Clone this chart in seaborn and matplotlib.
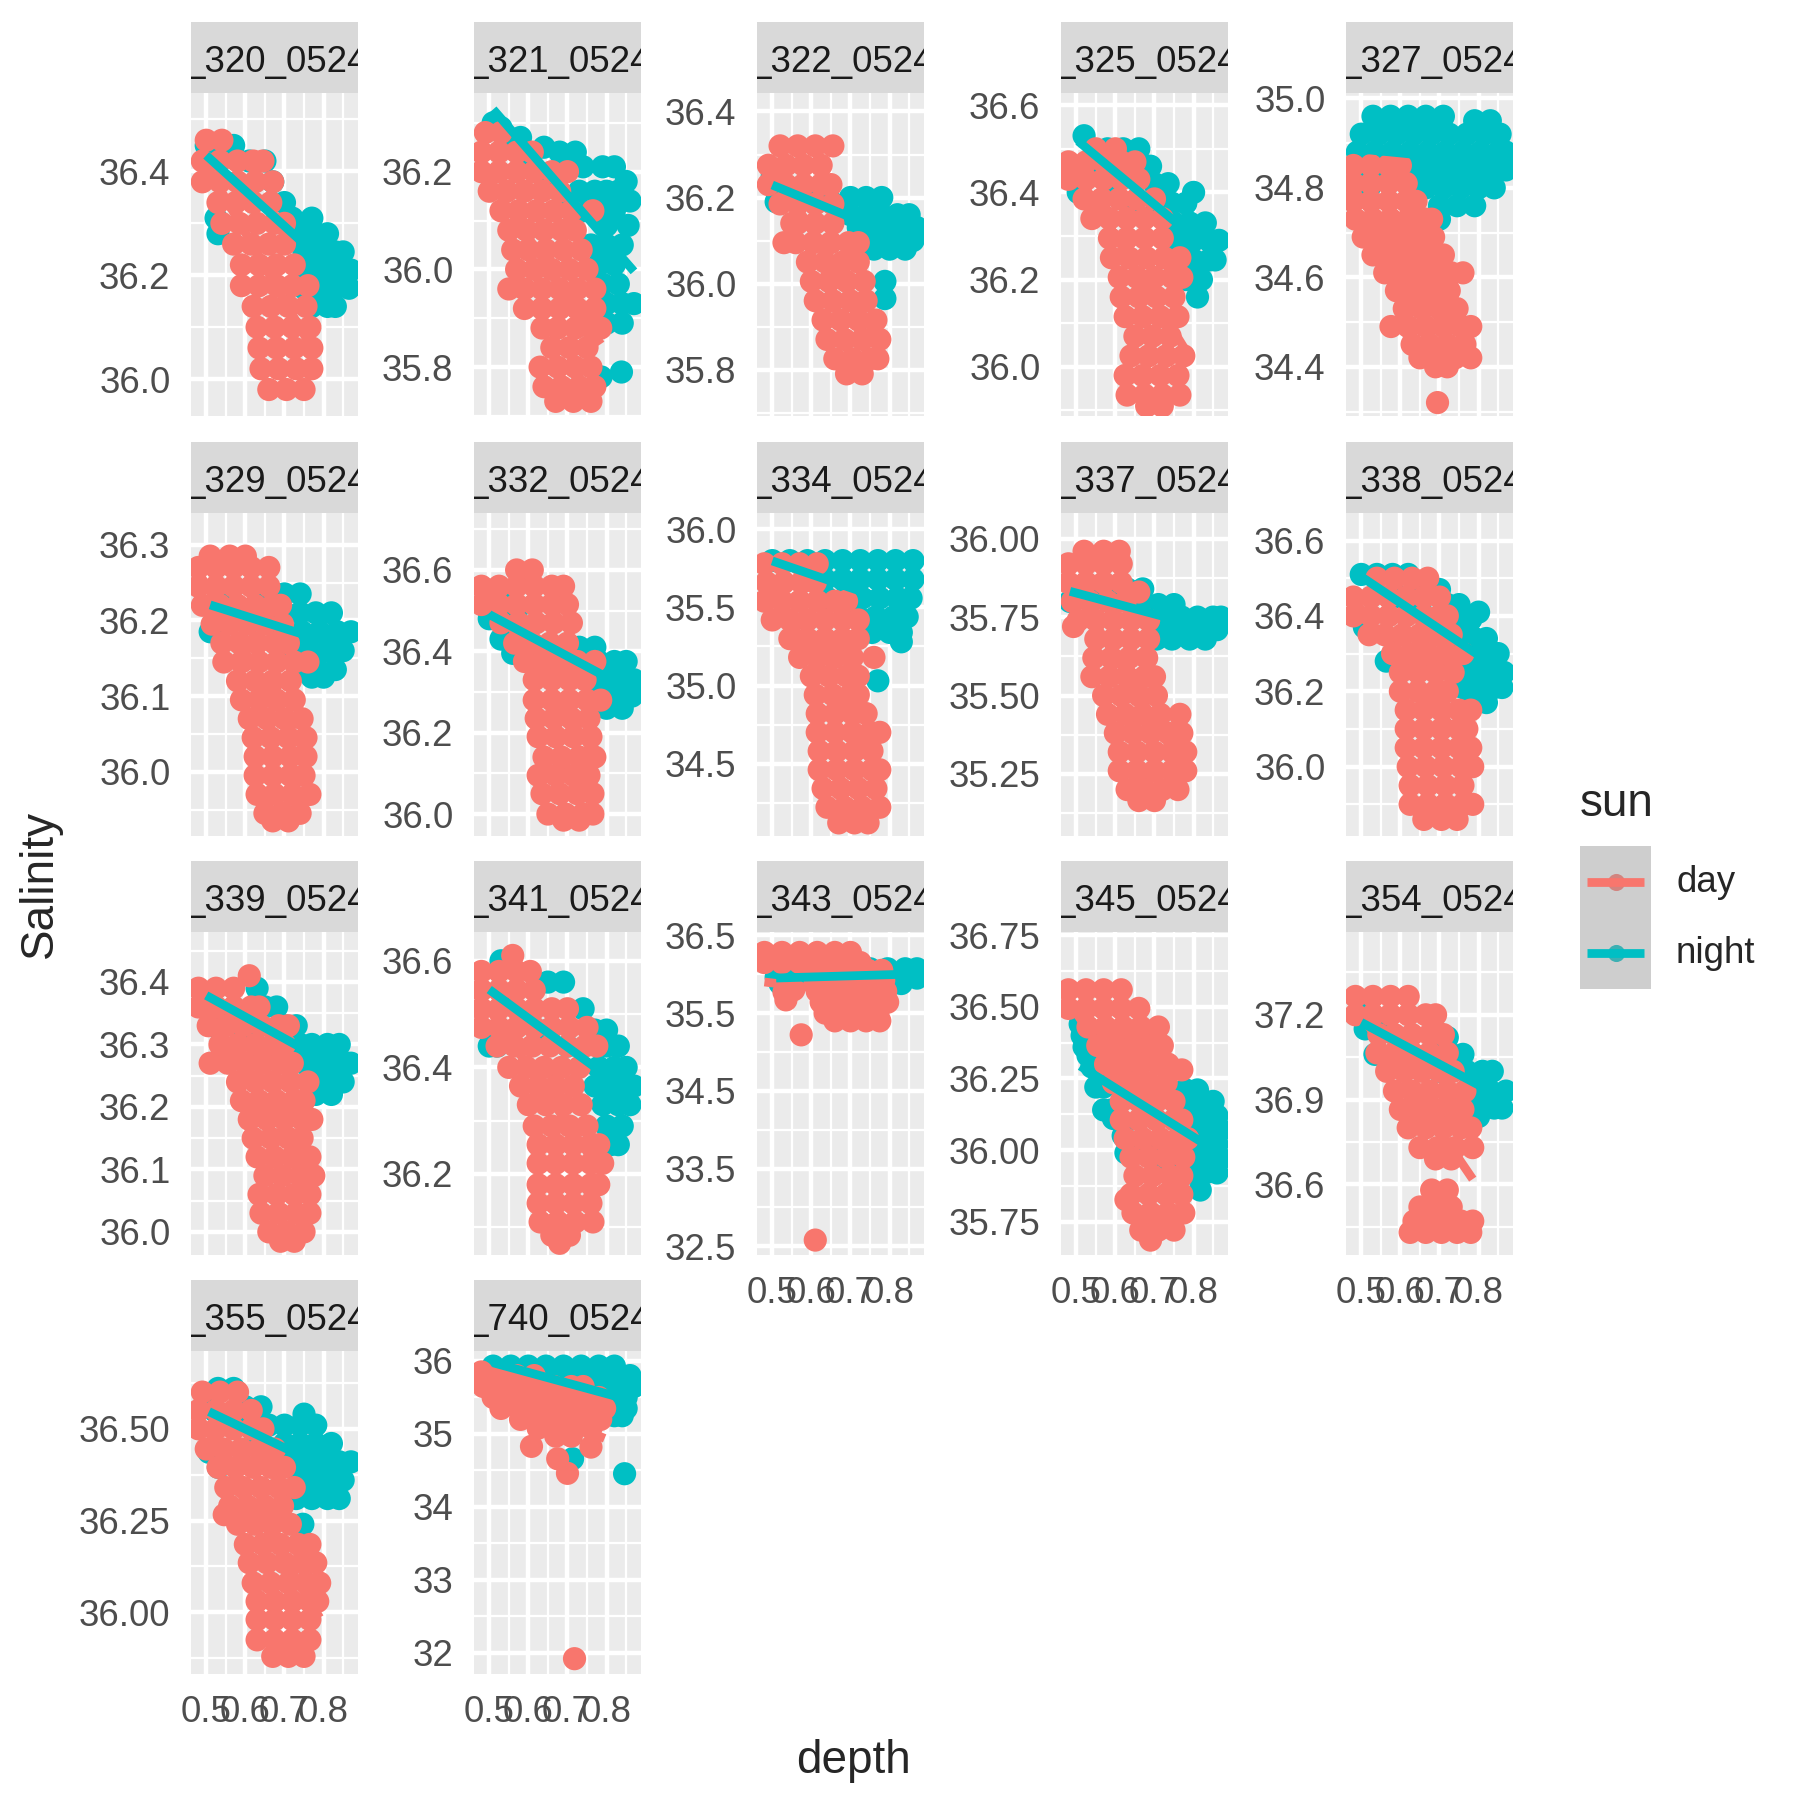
import pandas as pd
import matplotlib
matplotlib.use('Agg')
import matplotlib.pyplot as plt
import seaborn as sns
from matplotlib.ticker import FixedLocator, AutoMinorLocator, FormatStrFormatter
from matplotlib.patches import Rectangle
from matplotlib.lines import Line2D

# Salinity vs depth, one panel per station; each row is (salinity, [depths])
st320_day = [(36.46, [0.50, 0.54]), (36.42, [0.49, 0.535, 0.58, 0.62, 0.645]),
             (36.38, [0.49, 0.535, 0.58, 0.625, 0.67]), (36.34, [0.53, 0.575, 0.62, 0.665]),
             (36.30, [0.54, 0.585, 0.63, 0.675, 0.70]), (36.26, [0.57, 0.615, 0.66, 0.70]),
             (36.22, [0.59, 0.635, 0.68, 0.725]), (36.18, [0.59, 0.635, 0.68, 0.72, 0.76]),
             (36.14, [0.62, 0.665, 0.71, 0.755]), (36.10, [0.63, 0.675, 0.72, 0.765]),
             (36.06, [0.635, 0.68, 0.725, 0.77]), (36.02, [0.64, 0.685, 0.73, 0.77]),
             (35.98, [0.66, 0.705, 0.75])]
st320_night = [(36.45, [0.50, 0.535, 0.57]), (36.42, [0.61, 0.65]), (36.38, [0.67]), (36.34, [0.70]),
               (36.31, [0.525, 0.72, 0.77]), (36.28, [0.53, 0.74, 0.78, 0.81]),
               (36.245, [0.75, 0.79, 0.83, 0.85]), (36.21, [0.76, 0.80, 0.84, 0.87]),
               (36.175, [0.75, 0.79, 0.83, 0.865]), (36.14, [0.77, 0.81, 0.83])]

st321_day = [(36.28, [0.49, 0.53]), (36.24, [0.48, 0.525, 0.57, 0.61]),
             (36.20, [0.48, 0.525, 0.57, 0.615, 0.66, 0.70]), (36.16, [0.50, 0.545, 0.59, 0.635, 0.68]),
             (36.12, [0.53, 0.575, 0.62, 0.665, 0.71, 0.765]), (36.08, [0.55, 0.595, 0.64, 0.685, 0.72]),
             (36.04, [0.56, 0.60, 0.645, 0.69, 0.735]), (36.00, [0.57, 0.615, 0.66, 0.705, 0.75]),
             (35.96, [0.55, 0.59, 0.635, 0.68, 0.725, 0.77]), (35.92, [0.59, 0.635, 0.68, 0.725, 0.77]),
             (35.88, [0.635, 0.675, 0.72, 0.76, 0.785]), (35.84, [0.66, 0.705, 0.75]),
             (35.80, [0.63, 0.675, 0.72, 0.76]), (35.76, [0.64, 0.685, 0.73, 0.77]),
             (35.73, [0.67, 0.715, 0.76])]
st321_night = [(36.30, [0.51]), (36.29, [0.53]), (36.27, [0.58]), (36.26, [0.55]), (36.25, [0.64]),
               (36.24, [0.68, 0.72]), (36.22, [0.60]), (36.21, [0.70, 0.74, 0.79, 0.82]),
               (36.18, [0.65, 0.85]), (36.16, [0.73, 0.77, 0.80, 0.83]), (36.14, [0.70, 0.86]),
               (36.12, [0.74, 0.78, 0.82]), (36.09, [0.80, 0.855]), (36.05, [0.76, 0.80, 0.84]),
               (36.01, [0.78, 0.82]), (35.97, [0.79, 0.83]), (35.93, [0.80, 0.84, 0.87]),
               (35.89, [0.80, 0.84]), (35.79, [0.838]), (35.78, [0.786])]

st322_day = [(36.32, [0.52, 0.565, 0.61, 0.655]), (36.275, [0.49, 0.535, 0.58, 0.625]),
             (36.23, [0.49, 0.535, 0.58, 0.625, 0.65]), (36.185, [0.52, 0.565, 0.61, 0.655]),
             (36.14, [0.55, 0.565, 0.61, 0.655]), (36.095, [0.53, 0.56, 0.605, 0.65, 0.695, 0.72]),
             (36.05, [0.59, 0.635, 0.68, 0.72]), (36.005, [0.60, 0.645, 0.69, 0.735]),
             (35.96, [0.61, 0.655, 0.70, 0.74]), (35.915, [0.63, 0.675, 0.72, 0.765]),
             (35.87, [0.64, 0.685, 0.73, 0.775]), (35.825, [0.66, 0.705, 0.75, 0.77]),
             (35.79, [0.69, 0.73])]
st322_night = [(36.25, [0.50]), (36.22, [0.55]), (36.21, [0.60]), (36.19, [0.51, 0.65]),
               (36.20, [0.70, 0.74, 0.78]), (36.16, [0.70, 0.74, 0.78, 0.82, 0.85]),
               (36.13, [0.72, 0.76, 0.80, 0.84, 0.87]), (36.10, [0.74, 0.78, 0.82, 0.86]),
               (36.08, [0.76, 0.80, 0.84]), (36.005, [0.788]), (35.965, [0.788])]

st325_day = [(36.50, [0.55, 0.60]), (36.47, [0.48, 0.525, 0.57, 0.615, 0.65]),
             (36.43, [0.48, 0.525, 0.57, 0.615, 0.66]), (36.385, [0.52, 0.565, 0.61, 0.655, 0.70]),
             (36.34, [0.54, 0.585, 0.63, 0.675, 0.72]), (36.295, [0.585, 0.63, 0.675, 0.72]),
             (36.25, [0.59, 0.635, 0.68, 0.725, 0.765]), (36.205, [0.61, 0.655, 0.70, 0.745, 0.77]),
             (36.16, [0.615, 0.66, 0.705, 0.75]), (36.115, [0.625, 0.67, 0.715, 0.76]),
             (36.07, [0.65, 0.695, 0.74]), (36.025, [0.64, 0.685, 0.73, 0.775]),
             (35.98, [0.625, 0.67, 0.715, 0.76]), (35.935, [0.63, 0.675, 0.72, 0.765]),
             (35.91, [0.68, 0.72])]
st325_night = [(36.53, [0.52]), (36.50, [0.58, 0.62, 0.66]), (36.46, [0.69]), (36.45, [0.55]),
               (36.42, [0.60, 0.70, 0.735]), (36.40, [0.505, 0.80]), (36.38, [0.65]),
               (36.375, [0.745, 0.78]), (36.35, [0.70]), (36.33, [0.75, 0.79, 0.83]),
               (36.29, [0.76, 0.80, 0.84, 0.865]), (36.245, [0.76, 0.80, 0.84, 0.855]),
               (36.20, [0.78, 0.82]), (36.16, [0.81])]

st327_day = [(34.85, [0.48, 0.525, 0.57, 0.60]), (34.81, [0.48, 0.525, 0.57, 0.615]),
             (34.77, [0.48, 0.525, 0.57, 0.615, 0.64]), (34.73, [0.485, 0.53, 0.575, 0.62, 0.665, 0.68]),
             (34.69, [0.505, 0.55, 0.595, 0.64, 0.685]), (34.65, [0.53, 0.575, 0.62, 0.665, 0.71]),
             (34.61, [0.56, 0.605, 0.65, 0.695, 0.73, 0.76]), (34.57, [0.59, 0.635, 0.68, 0.725]),
             (34.53, [0.61, 0.655, 0.70, 0.745]), (34.49, [0.576, 0.62, 0.665, 0.71, 0.755, 0.78]),
             (34.45, [0.63, 0.675, 0.72, 0.765]), (34.42, [0.65, 0.695, 0.74, 0.78]),
             (34.40, [0.69, 0.72]), (34.32, [0.695])]
st327_night = [(34.96, [0.53, 0.575, 0.62, 0.665, 0.71]), (34.95, [0.79, 0.83]),
               (34.92, [0.50, 0.545, 0.59, 0.635, 0.68, 0.725, 0.77, 0.815, 0.855]),
               (34.88, [0.49, 0.535, 0.58, 0.625, 0.67, 0.715, 0.76, 0.805, 0.85, 0.87]),
               (34.84, [0.50, 0.56, 0.605, 0.65, 0.695, 0.74, 0.785, 0.83, 0.87]),
               (34.80, [0.52, 0.665, 0.71, 0.755, 0.80, 0.84]), (34.76, [0.70, 0.745, 0.79]),
               (34.73, [0.70])]

st329_day = [(36.285, [0.51, 0.56, 0.60]), (36.27, [0.48, 0.525, 0.57, 0.615, 0.66]),
             (36.245, [0.48, 0.525, 0.57, 0.615, 0.66]), (36.22, [0.49, 0.535, 0.58, 0.625, 0.67, 0.69]),
             (36.195, [0.515, 0.56, 0.605, 0.65, 0.695]), (36.17, [0.54, 0.585, 0.63, 0.675, 0.71]),
             (36.145, [0.545, 0.59, 0.635, 0.68, 0.725, 0.76]), (36.12, [0.58, 0.625, 0.67, 0.715]),
             (36.095, [0.59, 0.635, 0.68, 0.725]), (36.07, [0.61, 0.655, 0.70, 0.745]),
             (36.045, [0.62, 0.665, 0.71, 0.755]), (36.02, [0.625, 0.67, 0.715, 0.755]),
             (35.995, [0.625, 0.67, 0.715, 0.75]), (35.97, [0.63, 0.675, 0.72, 0.765]),
             (35.945, [0.65, 0.695, 0.74]), (35.935, [0.67, 0.71])]
st329_night = [(36.235, [0.66, 0.70, 0.74]), (36.22, [0.55]), (36.21, [0.60, 0.70, 0.74, 0.78, 0.82]),
               (36.20, [0.64]), (36.185, [0.51, 0.70, 0.745, 0.79, 0.835, 0.87]),
               (36.16, [0.72, 0.765, 0.81, 0.85]), (36.135, [0.74, 0.785, 0.83]), (36.125, [0.77, 0.80])]

st332_day = [(36.60, [0.57, 0.61]), (36.56, [0.48, 0.525, 0.57, 0.615, 0.66, 0.69]),
             (36.515, [0.48, 0.525, 0.57, 0.615, 0.66, 0.70]), (36.47, [0.53, 0.575, 0.62, 0.665, 0.71]),
             (36.42, [0.565, 0.61, 0.655, 0.70]), (36.375, [0.59, 0.635, 0.68, 0.725, 0.77]),
             (36.33, [0.615, 0.66, 0.705, 0.745]), (36.28, [0.615, 0.66, 0.705, 0.75, 0.785]),
             (36.235, [0.62, 0.665, 0.71, 0.755]), (36.19, [0.625, 0.67, 0.715, 0.76]),
             (36.14, [0.64, 0.685, 0.73, 0.77]), (36.095, [0.625, 0.67, 0.715, 0.755]),
             (36.05, [0.635, 0.68, 0.725, 0.765]), (36.00, [0.65, 0.695, 0.74, 0.765]),
             (35.985, [0.69, 0.73])]
st332_night = [(36.55, [0.50]), (36.53, [0.53]), (36.50, [0.52, 0.57]), (36.48, [0.50]), (36.46, [0.55]),
               (36.43, [0.53]), (36.395, [0.56, 0.59]), (36.40, [0.62, 0.66]), (36.38, [0.70]),
               (36.41, [0.73, 0.77]), (36.375, [0.74, 0.78, 0.82, 0.85]), (36.33, [0.77, 0.81, 0.85, 0.87]),
               (36.29, [0.79, 0.83, 0.865]), (36.26, [0.80, 0.84])]

st334_day = [(35.78, [0.48, 0.525, 0.57, 0.615]), (35.66, [0.485, 0.53, 0.575, 0.61]),
             (35.54, [0.48, 0.525, 0.57, 0.615, 0.66, 0.69]), (35.42, [0.50, 0.545, 0.59, 0.635, 0.68, 0.72]),
             (35.30, [0.545, 0.59, 0.635, 0.68, 0.72]), (35.18, [0.57, 0.615, 0.66, 0.705, 0.76]),
             (35.06, [0.60, 0.645, 0.69, 0.72]), (34.94, [0.61, 0.655, 0.70, 0.72]),
             (34.82, [0.615, 0.66, 0.705, 0.74]), (34.70, [0.615, 0.66, 0.705, 0.75, 0.775]),
             (34.58, [0.62, 0.665, 0.71, 0.755]), (34.46, [0.62, 0.665, 0.71, 0.755, 0.775]),
             (34.34, [0.63, 0.675, 0.72, 0.765]), (34.22, [0.64, 0.685, 0.73, 0.775]),
             (34.12, [0.67, 0.71, 0.745])]
st334_night = [(35.80, [0.50, 0.545, 0.59, 0.635, 0.68, 0.725, 0.77, 0.815, 0.86]),
               (35.68, [0.635, 0.68, 0.725, 0.77, 0.815, 0.86]),
               (35.56, [0.64, 0.685, 0.73, 0.775, 0.82, 0.855]), (35.44, [0.72, 0.765, 0.81, 0.845]),
               (35.34, [0.755, 0.80, 0.83]), (35.28, [0.83]), (35.03, [0.77])]

st337_day = [(35.96, [0.52, 0.57, 0.61]), (35.92, [0.48, 0.525, 0.57, 0.615]),
             (35.86, [0.48, 0.525, 0.57, 0.615]), (35.83, [0.66]), (35.80, [0.49, 0.535, 0.58, 0.625]),
             (35.74, [0.505, 0.55, 0.595, 0.64, 0.685]), (35.72, [0.493]),
             (35.68, [0.55, 0.595, 0.64, 0.685]), (35.62, [0.545, 0.59, 0.635, 0.68]),
             (35.56, [0.54, 0.585, 0.63, 0.675, 0.70]), (35.50, [0.57, 0.615, 0.66, 0.705]),
             (35.44, [0.58, 0.625, 0.67, 0.715, 0.765]), (35.38, [0.60, 0.645, 0.69, 0.735, 0.77]),
             (35.32, [0.61, 0.655, 0.70, 0.745, 0.78]), (35.26, [0.61, 0.655, 0.70, 0.745, 0.78]),
             (35.20, [0.63, 0.675, 0.72, 0.76]), (35.165, [0.66, 0.70])]
st337_night = [(35.84, [0.63, 0.67]), (35.83, [0.55]), (35.81, [0.60]), (35.80, [0.484]),
               (35.79, [0.665, 0.71, 0.75]), (35.75, [0.69, 0.73, 0.77, 0.81, 0.85, 0.87]),
               (35.71, [0.70, 0.74, 0.78, 0.82, 0.86]), (35.68, [0.705, 0.745, 0.79, 0.83])]

st338_day = [(36.50, [0.54, 0.585, 0.63, 0.67]), (36.45, [0.48, 0.525, 0.57, 0.615, 0.66, 0.70]),
             (36.40, [0.48, 0.525, 0.57, 0.615, 0.66, 0.70, 0.72]),
             (36.35, [0.52, 0.56, 0.605, 0.65, 0.695, 0.73]), (36.30, [0.58, 0.625, 0.67, 0.715, 0.76]),
             (36.25, [0.60, 0.645, 0.69, 0.735]), (36.20, [0.60, 0.645, 0.69, 0.72]),
             (36.15, [0.615, 0.66, 0.705, 0.75, 0.78]), (36.10, [0.615, 0.66, 0.705, 0.75, 0.77]),
             (36.05, [0.615, 0.66, 0.705, 0.75, 0.78]), (36.00, [0.62, 0.665, 0.71, 0.755, 0.785]),
             (35.95, [0.625, 0.67, 0.715, 0.76]), (35.90, [0.625, 0.67, 0.715, 0.76, 0.785]),
             (35.86, [0.66, 0.705, 0.745])]
st338_night = [(36.51, [0.50, 0.54, 0.58, 0.62]), (36.47, [0.66, 0.70]), (36.45, [0.60]),
               (36.43, [0.72, 0.75]), (36.42, [0.65]), (36.41, [0.80]), (36.39, [0.75, 0.78]),
               (36.38, [0.70]), (36.37, [0.508]), (36.34, [0.75, 0.79, 0.82]), (36.30, [0.78, 0.81, 0.85]),
               (36.28, [0.564]), (36.25, [0.76, 0.80, 0.84, 0.865]), (36.21, [0.76, 0.80, 0.84, 0.86]),
               (36.17, [0.78, 0.82])]

st339_day = [(36.41, [0.61]), (36.39, [0.48, 0.525, 0.57]), (36.36, [0.48, 0.525, 0.57, 0.615, 0.635]),
             (36.33, [0.505, 0.55, 0.595, 0.64, 0.685, 0.71]), (36.30, [0.535, 0.58, 0.625, 0.67, 0.70]),
             (36.27, [0.51, 0.555, 0.60, 0.645, 0.69, 0.72]), (36.24, [0.58, 0.625, 0.67, 0.715, 0.76]),
             (36.21, [0.59, 0.635, 0.68, 0.725, 0.75]), (36.18, [0.61, 0.655, 0.70, 0.745, 0.77]),
             (36.15, [0.62, 0.665, 0.71, 0.745]), (36.12, [0.63, 0.675, 0.72, 0.765]),
             (36.09, [0.65, 0.695, 0.74, 0.775]), (36.06, [0.635, 0.68, 0.725, 0.765]),
             (36.03, [0.64, 0.685, 0.73, 0.765]), (36.00, [0.66, 0.705, 0.75]), (35.985, [0.69, 0.725])]
st339_night = [(36.39, [0.63]), (36.38, [0.50]), (36.36, [0.65, 0.68]), (36.35, [0.55]),
               (36.33, [0.52, 0.70, 0.73]), (36.32, [0.60]), (36.30, [0.74, 0.77, 0.81, 0.84]),
               (36.27, [0.75, 0.79, 0.83, 0.86, 0.87]), (36.24, [0.77, 0.81, 0.85]), (36.22, [0.78, 0.82])]

st341_day = [(36.61, [0.56]), (36.58, [0.48, 0.525, 0.57, 0.605]), (36.545, [0.48, 0.525, 0.57, 0.615]),
             (36.51, [0.48, 0.525, 0.57, 0.615, 0.66, 0.70]),
             (36.475, [0.48, 0.525, 0.57, 0.615, 0.66, 0.705, 0.75]),
             (36.44, [0.52, 0.565, 0.61, 0.655, 0.70, 0.745, 0.775]),
             (36.40, [0.55, 0.595, 0.64, 0.685, 0.73]), (36.365, [0.58, 0.625, 0.67, 0.715]),
             (36.33, [0.60, 0.645, 0.69, 0.735]), (36.29, [0.615, 0.66, 0.705, 0.75]),
             (36.255, [0.625, 0.67, 0.715, 0.76, 0.78]), (36.22, [0.625, 0.67, 0.715, 0.76, 0.79]),
             (36.18, [0.625, 0.67, 0.715, 0.76, 0.78]), (36.145, [0.625, 0.67, 0.715, 0.76]),
             (36.11, [0.63, 0.675, 0.72, 0.765]), (36.085, [0.66, 0.705]), (36.07, [0.68])]
st341_night = [(36.60, [0.53]), (36.56, [0.65, 0.69]), (36.52, [0.55]), (36.51, [0.74]), (36.50, [0.60]),
               (36.47, [0.65, 0.77, 0.80]), (36.44, [0.50, 0.52, 0.70, 0.80, 0.83]),
               (36.40, [0.78, 0.82, 0.85]), (36.365, [0.77, 0.81, 0.85, 0.87]),
               (36.33, [0.79, 0.83, 0.86]), (36.29, [0.80, 0.84]), (36.255, [0.81, 0.83])]

st343_day = [(36.28, [0.48, 0.525, 0.57, 0.615, 0.66, 0.70]),
             (36.15, [0.48, 0.525, 0.57, 0.615, 0.66, 0.705, 0.725]),
             (36.05, [0.61, 0.655, 0.70, 0.745, 0.78]), (35.92, [0.61, 0.655, 0.70, 0.745, 0.785]),
             (35.80, [0.555]), (35.77, [0.53]), (35.78, [0.615, 0.66, 0.705, 0.75, 0.79]),
             (35.67, [0.535]), (35.64, [0.625, 0.67, 0.715, 0.76, 0.795]),
             (35.50, [0.635, 0.68, 0.725, 0.77]), (35.40, [0.66, 0.70, 0.74, 0.775]),
             (35.22, [0.574]), (32.58, [0.61])]
st343_night = [(36.07, [0.75, 0.795, 0.84, 0.87]), (36.05, [0.63, 0.67, 0.71]),
               (35.96, [0.51, 0.55, 0.59]), (35.95, [0.80, 0.84, 0.87]),
               (35.88, [0.52, 0.56, 0.80, 0.83])]

st345_day = [(36.56, [0.48, 0.525, 0.57, 0.615]), (36.495, [0.48, 0.525, 0.57, 0.615, 0.66]),
             (36.43, [0.53, 0.575, 0.62, 0.665, 0.71]), (36.365, [0.555, 0.60, 0.645, 0.69, 0.72]),
             (36.30, [0.575, 0.62, 0.665, 0.71, 0.735]), (36.28, [0.77]),
             (36.235, [0.595, 0.64, 0.685, 0.73]), (36.17, [0.615, 0.66, 0.705, 0.75]),
             (36.105, [0.615, 0.66, 0.705, 0.75, 0.77]), (36.04, [0.625, 0.67, 0.715, 0.76, 0.785]),
             (35.975, [0.64, 0.685, 0.73, 0.775]), (35.91, [0.65, 0.695, 0.74, 0.77]),
             (35.845, [0.64, 0.685, 0.73, 0.77]), (35.826, [0.627]),
             (35.78, [0.645, 0.69, 0.735, 0.775]), (35.72, [0.665, 0.71, 0.75]), (35.685, [0.69])]
st345_night = [(36.44, [0.51]), (36.40, [0.515, 0.53]), (36.36, [0.52, 0.54]), (36.33, [0.53, 0.55]),
               (36.29, [0.54, 0.56]), (36.22, [0.55, 0.57]), (36.14, [0.57, 0.59]), (36.11, [0.595]),
               (36.05, [0.62]), (36.00, [0.66]), (35.99, [0.627]), (35.98, [0.70]), (35.95, [0.74, 0.78]),
               (36.21, [0.74, 0.78, 0.81]), (36.17, [0.80, 0.85]), (36.12, [0.79, 0.83, 0.86]),
               (36.07, [0.80, 0.84, 0.87]), (36.02, [0.79, 0.83, 0.86]), (35.97, [0.79, 0.83, 0.87]),
               (35.92, [0.79, 0.83, 0.86]), (35.86, [0.817])]

st354_day = [(37.265, [0.485, 0.53, 0.575, 0.62]), (37.20, [0.485, 0.53, 0.575, 0.62, 0.665, 0.69]),
             (37.13, [0.545, 0.585, 0.63, 0.675, 0.71]), (37.065, [0.54, 0.585, 0.63, 0.675, 0.72]),
             (37.00, [0.565, 0.61, 0.655, 0.70, 0.735]), (36.93, [0.585, 0.63, 0.675, 0.72, 0.765]),
             (36.865, [0.60, 0.645, 0.69, 0.735, 0.76]), (36.80, [0.62, 0.665, 0.71, 0.755, 0.78]),
             (36.73, [0.65, 0.695, 0.74, 0.785]), (36.69, [0.69, 0.73]),
             (36.58, [0.68, 0.72]), (36.52, [0.65, 0.69, 0.73]),
             (36.47, [0.635, 0.675, 0.715, 0.755, 0.785]), (36.43, [0.625, 0.665, 0.705, 0.745, 0.78])]
st354_night = [(37.20, [0.50]), (37.15, [0.51, 0.55]), (37.12, [0.69, 0.72]), (37.10, [0.60]),
               (37.06, [0.535, 0.73, 0.76]), (37.05, [0.65]), (37.00, [0.70, 0.77, 0.81, 0.835]),
               (36.93, [0.79, 0.83, 0.87]), (36.87, [0.76, 0.80, 0.84, 0.86]), (36.84, [0.80])]

st355_day = [(36.60, [0.49, 0.535, 0.58]), (36.55, [0.48, 0.525, 0.57, 0.615]),
             (36.50, [0.48, 0.525, 0.57, 0.615, 0.645]), (36.445, [0.50, 0.545, 0.59, 0.635, 0.675]),
             (36.395, [0.53, 0.575, 0.62, 0.665, 0.70]), (36.34, [0.55, 0.595, 0.64, 0.685, 0.725]),
             (36.29, [0.56, 0.605, 0.65, 0.695]), (36.266, [0.546]),
             (36.24, [0.58, 0.625, 0.67, 0.715]), (36.185, [0.60, 0.645, 0.69, 0.735, 0.765]),
             (36.135, [0.61, 0.655, 0.70, 0.745, 0.78]), (36.08, [0.62, 0.665, 0.71, 0.755, 0.79]),
             (36.03, [0.63, 0.675, 0.72, 0.765, 0.785]), (35.98, [0.63, 0.675, 0.72, 0.765]),
             (35.925, [0.63, 0.675, 0.72, 0.765]), (35.88, [0.67, 0.71, 0.75])]
st355_night = [(36.61, [0.53, 0.57]), (36.56, [0.60, 0.64]), (36.55, [0.52]), (36.54, [0.75]),
               (36.52, [0.58]), (36.51, [0.66, 0.70, 0.74, 0.78]), (36.48, [0.63]),
               (36.46, [0.70, 0.74, 0.78, 0.82]), (36.436, [0.507]), (36.41, [0.72, 0.76, 0.80, 0.84, 0.87]),
               (36.395, [0.531]), (36.36, [0.74, 0.78, 0.82, 0.85]), (36.31, [0.73, 0.77, 0.81, 0.84]),
               (36.24, [0.747])]

st740_day = [(35.85, [0.48]), (35.80, [0.525, 0.57, 0.615]),
             (35.65, [0.485, 0.53, 0.575, 0.62, 0.665, 0.71, 0.74]),
             (35.50, [0.51, 0.555, 0.60, 0.645, 0.69, 0.735, 0.78]),
             (35.35, [0.53, 0.575, 0.62, 0.665, 0.71, 0.755, 0.795]),
             (35.20, [0.58, 0.625, 0.67, 0.715, 0.76, 0.785]), (35.08, [0.625, 0.67, 0.715, 0.76]),
             (34.97, [0.67, 0.71]), (34.83, [0.608]), (34.82, [0.76]), (34.66, [0.675]),
             (34.46, [0.70]), (31.92, [0.718])]
st740_night = [(35.93, [0.51, 0.555, 0.60, 0.645, 0.69, 0.735, 0.78, 0.82]),
               (35.80, [0.55, 0.60, 0.64, 0.685, 0.73, 0.775, 0.82, 0.86]),
               (35.65, [0.76, 0.80, 0.845, 0.87]), (35.50, [0.81, 0.85]), (35.35, [0.82, 0.85]),
               (35.25, [0.82, 0.84]), (34.66, [0.713]), (34.455, [0.846])]

stations = ['320', '321', '322', '325', '327', '329', '332', '334', '337', '338',
            '339', '341', '343', '345', '354', '355', '740']
day_data = {'320': st320_day, '321': st321_day, '322': st322_day, '325': st325_day,
            '327': st327_day, '329': st329_day, '332': st332_day, '334': st334_day,
            '337': st337_day, '338': st338_day, '339': st339_day, '341': st341_day,
            '343': st343_day, '345': st345_day, '354': st354_day, '355': st355_day,
            '740': st740_day}
night_data = {'320': st320_night, '321': st321_night, '322': st322_night, '325': st325_night,
              '327': st327_night, '329': st329_night, '332': st332_night, '334': st334_night,
              '337': st337_night, '338': st338_night, '339': st339_night, '341': st341_night,
              '343': st343_night, '345': st345_night, '354': st354_night, '355': st355_night,
              '740': st740_night}

# y axis breaks per panel (free scales)
y_ticks = {'320': [36.0, 36.2, 36.4], '321': [35.8, 36.0, 36.2], '322': [35.8, 36.0, 36.2, 36.4],
           '325': [36.0, 36.2, 36.4, 36.6], '327': [34.4, 34.6, 34.8, 35.0],
           '329': [36.0, 36.1, 36.2, 36.3], '332': [36.0, 36.2, 36.4, 36.6],
           '334': [34.5, 35.0, 35.5, 36.0], '337': [35.25, 35.5, 35.75, 36.0],
           '338': [36.0, 36.2, 36.4, 36.6], '339': [36.0, 36.1, 36.2, 36.3, 36.4],
           '341': [36.2, 36.4, 36.6], '343': [32.5, 33.5, 34.5, 35.5, 36.5],
           '345': [35.75, 36.0, 36.25, 36.5, 36.75], '354': [36.6, 36.9, 37.2],
           '355': [36.0, 36.25, 36.5], '740': [32, 33, 34, 35, 36]}
y_decimals = {'337': 2, '345': 2, '355': 2, '740': 0}
y_limits = {'320': (35.929, 36.551), '321': (35.700, 36.361), '322': (35.692, 36.443),
            '325': (35.887, 36.628), '327': (34.290, 35.012), '329': (35.915, 36.342),
            '332': (35.946, 36.740), '334': (34.036, 36.105), '337': (35.052, 36.082),
            '338': (35.816, 36.673), '339': (35.963, 36.480), '341': (36.048, 36.654),
            '343': (32.388, 36.543), '345': (35.633, 36.762), '354': (36.350, 37.493),
            '355': (35.832, 36.712), '740': (31.710, 36.137)}

records = []
for st in stations:
    for sun, rows in (('night', night_data[st]), ('day', day_data[st])):
        for sal, depths in rows:
            for d in depths:
                records.append((st, sun, d, sal))
df = pd.DataFrame(records, columns=['station', 'sun', 'depth', 'Salinity'])

pal = {'day': '#F8766D', 'night': '#00BFC4'}

sns.set_theme(style='darkgrid')
plt.rcParams['font.family'] = ['Liberation Sans', 'DejaVu Sans']

W = H = 1800
fig = plt.figure(figsize=(6, 6), dpi=300)
fig.patch.set_facecolor('white')

col_left = [191, 474, 757, 1061, 1346]
row_top = [93, 513, 932, 1351]
pw, ph, sh = 167, 323, 71

for i, st in enumerate(stations):
    r, c = divmod(i, 5)
    x0, y0 = col_left[c], row_top[r]
    ax = fig.add_axes([x0 / W, 1 - (y0 + ph) / H, pw / W, ph / H])
    sub = df[df['station'] == st]
    sns.scatterplot(data=sub, x='depth', y='Salinity', hue='sun', palette=pal,
                    s=31, linewidth=0, legend=False, ax=ax, zorder=2)
    for sun in ['day', 'night']:
        sns.regplot(data=sub[sub['sun'] == sun], x='depth', y='Salinity', scatter=False,
                    ci=None, truncate=True, color=pal[sun], ax=ax,
                    line_kws={'lw': 2.1, 'solid_capstyle': 'butt', 'zorder': 3})

    ax.set_facecolor('#EBEBEB')
    ax.set_xlim(0.461, 0.888)
    ax.set_ylim(*y_limits[st])
    ax.xaxis.set_major_locator(FixedLocator([0.5, 0.6, 0.7, 0.8]))
    ax.xaxis.set_minor_locator(FixedLocator([0.55, 0.65, 0.75, 0.85]))
    ax.yaxis.set_major_locator(FixedLocator(y_ticks[st]))
    ax.yaxis.set_minor_locator(AutoMinorLocator(2))
    ax.yaxis.set_major_formatter(FormatStrFormatter('%%.%df' % y_decimals.get(st, 1)))
    ax.xaxis.set_major_formatter(FormatStrFormatter('%.1f'))
    ax.grid(which='major', color='white', lw=1.07)
    ax.grid(which='minor', color='white', lw=0.53)
    ax.set_axisbelow(True)
    for sp in ax.spines.values():
        sp.set_visible(False)
    ax.tick_params(which='major', length=2.75, width=1.07, color='#333333',
                   labelsize=8.8, labelcolor='#4D4D4D', pad=2.2)
    ax.tick_params(which='minor', length=0)
    ax.set_xlabel('')
    ax.set_ylabel('')
    bottom = r == 3 or (r == 2 and c >= 2)
    if not bottom:
        ax.tick_params(axis='x', which='both', bottom=False, labelbottom=False)

    # facet strip
    sax = fig.add_axes([x0 / W, 1 - y0 / H, pw / W, sh / H])
    sax.set_facecolor('#D9D9D9')
    sax.set_xticks([])
    sax.set_yticks([])
    sax.grid(False)
    for sp in sax.spines.values():
        sp.set_visible(False)
    sax.text(-6 / pw, 0.294, '_%s_0524' % st, transform=sax.transAxes, ha='left',
             va='baseline', fontsize=8.8, color='#1A1A1A', clip_on=True)

# axis titles
fig.text(40 / W, 1 - 884 / H, 'Salinity', rotation=90, fontsize=11, ha='center', va='center')
fig.text(853 / W, 1 - 1761 / H, 'depth', fontsize=11, ha='center', va='center')

# legend
fig.text(1580 / W, 1 - 804 / H, 'sun', fontsize=11, ha='left', va='center')
fig.add_artist(Rectangle((1580 / W, 1 - 989 / H), 71 / W, 143 / H,
                         transform=fig.transFigure, facecolor='#CECECE', edgecolor='none'))
muted = {'day': '#D2847F', 'night': '#3DB0B3'}
for sun, yc in [('day', 882), ('night', 953)]:
    fig.add_artist(Line2D([1615.5 / W], [1 - yc / H], marker='o', ms=4.1, mew=0,
                          color=muted[sun], transform=fig.transFigure))
    fig.add_artist(Line2D([1587 / W, 1644 / W], [1 - yc / H] * 2, lw=2.1, color=pal[sun],
                          solid_capstyle='butt', transform=fig.transFigure))
    fig.text(1676 / W, 1 - yc / H, sun, fontsize=8.8, ha='left', va='center')

fig.savefig('out.png', dpi=300, facecolor='white')
